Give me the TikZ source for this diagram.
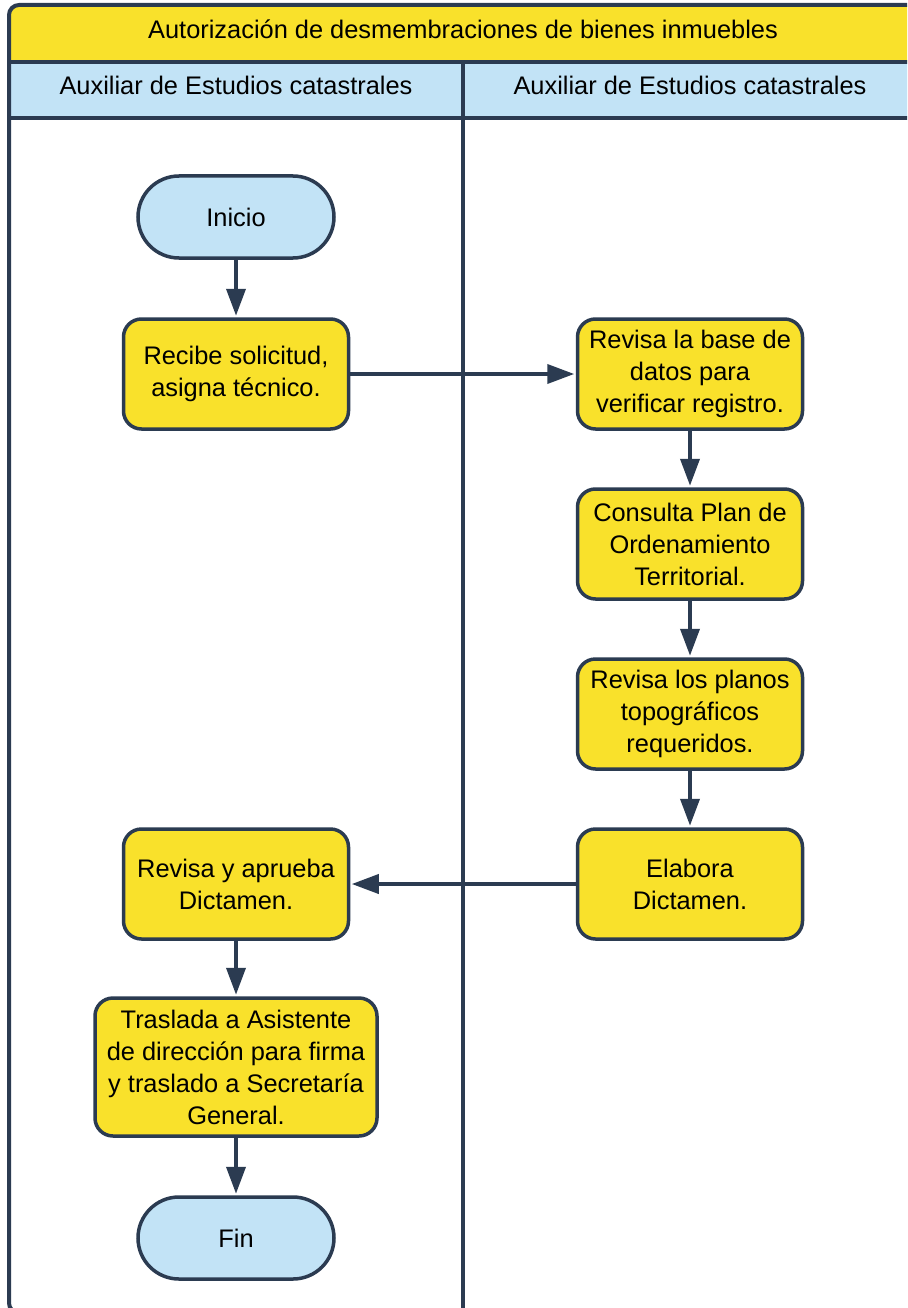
\documentclass[tikz,border=0pt]{standalone}
\usepackage{fontspec}
\setmainfont{Liberation Sans}
\usetikzlibrary{arrows.meta}
\definecolor{ink}{HTML}{2B3B51}
\definecolor{procfill}{HTML}{F9E12B}
\definecolor{termfill}{HTML}{C2E3F6}
\begin{document}
\begin{tikzpicture}[x=1pt,y=-1pt,
  lbl/.style={font=\fontsize{25.4}{32}\selectfont, text=black},
  proc/.style={draw=ink, fill=procfill, line width=3.5pt, rounded corners=18pt,
    minimum width=225pt, minimum height=110pt, align=center, lbl, inner sep=0pt},
  term/.style={draw=ink, fill=termfill, line width=3.5pt, rounded corners=41pt,
    minimum width=196pt, minimum height=82pt, lbl, inner sep=0pt},
  flow/.style={draw=ink, line width=3.8pt, -{Triangle[length=27pt,width=19pt]}, shorten >=1.5pt},
  poolline/.style={draw=ink, line width=4pt}
]
% page area
\clip (0,0) rectangle (907,1308);
\fill[white] (0,0) rectangle (907,1308);

% pool with title and lane headers
\begin{scope}
  \clip[rounded corners=10pt] (9,5) rectangle (920,1313);
  \fill[white] (9,5) rectangle (920,1313);
  \fill[procfill] (9,5) rectangle (920,62);
  \fill[termfill] (9,62) rectangle (920,118);
\end{scope}
\draw[poolline] (9,62) -- (920,62);
\draw[poolline] (9,118) -- (920,118);
\draw[poolline] (463,62) -- (463,1313);
\draw[poolline, rounded corners=10pt] (9,5) rectangle (920,1313);

\node[lbl, anchor=base] (title) at (463,39) {Autorización de desmembraciones de bienes inmuebles};
\node[lbl, anchor=base] (laneA) at (236,95) {Auxiliar de Estudios catastrales};
\node[lbl, anchor=base] (laneB) at (690,95) {Auxiliar de Estudios catastrales};

% steps
\node[term] (inicio) at (236,217) {Inicio};
\node[proc] (recibe) at (236,374) {Recibe solicitud,\\asigna técnico.};
\node[proc] (base) at (690,374) {Revisa la base de\\datos para\\verificar registro.};
\node[proc] (plan) at (690,544) {Consulta Plan de\\Ordenamiento\\Territorial.};
\node[proc] (planos) at (690,714) {Revisa los planos\\topográficos\\requeridos.};
\node[proc] (elabora) at (690,884) {Elabora\\Dictamen.};
\node[proc] (aprueba) at (236,884) {Revisa y aprueba\\Dictamen.};
\node[proc, minimum width=282pt, minimum height=138pt] (traslada) at (236,1067)
  {Traslada a Asistente\\de dirección para firma\\y traslado a Secretaría\\General.};
\node[term] (fin) at (236,1238) {Fin};

% connectors
\draw[flow] (inicio) -- (recibe);
\draw[flow] (recibe) -- (base);
\draw[flow] (base) -- (plan);
\draw[flow] (plan) -- (planos);
\draw[flow] (planos) -- (elabora);
\draw[flow] (elabora) -- (aprueba);
\draw[flow] (aprueba) -- (traslada);
\draw[flow] (traslada) -- (fin);
\end{tikzpicture}
\end{document}
